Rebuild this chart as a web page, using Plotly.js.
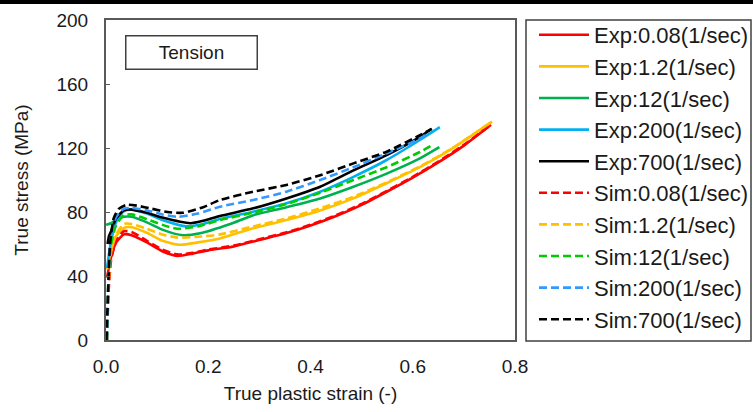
<!DOCTYPE html>
<html>
<head>
<meta charset="utf-8">
<script src="https://cdn.plot.ly/plotly-3.0.1.min.js"></script>
<style>
html,body{margin:0;padding:0;background:#fff;}
#chart{width:753px;height:412px;}
</style>
</head>
<body>
<div id="chart"></div>
<script>
// ---- Data ----
const seriesNames = ["Exp:0.08(1/sec)","Exp:1.2(1/sec)","Exp:12(1/sec)","Exp:200(1/sec)","Exp:700(1/sec)",
                     "Sim:0.08(1/sec)","Sim:1.2(1/sec)","Sim:12(1/sec)","Sim:200(1/sec)","Sim:700(1/sec)"];

const expStrain008 = [0.002,0.01,0.02,0.035,0.05,0.08,0.11,0.14,0.17,0.2,0.25,0.3,0.35,0.4,0.45,0.5,0.55,0.6,0.65,0.7,0.753];
const expStress008 = [39,52,61,66,65.5,61,55.5,52.5,54,56,58.5,62.5,66.5,71.5,77.5,84.5,92.8,101.5,111,121.5,134.5];

const expStrain12 = [0.002,0.01,0.02,0.035,0.05,0.08,0.11,0.145,0.18,0.223,0.288,0.353,0.419,0.484,0.549,0.614,0.673,0.755];
const expStress12 = [44,56,65,70,70.5,67,62,59.5,61,63.5,69.8,75,81,88.5,98,108,118.8,136.5];

const expStrain12s = [0,0.01,0.02,0.035,0.05,0.08,0.11,0.15,0.184,0.243,0.288,0.353,0.419,0.484,0.549,0.614,0.652];
const expStress12s = [72,73,75,77,77,73.5,69,65.5,66.7,72.5,78,83,88.5,95.8,104,113.5,120.5];

const expStrain200 = [0.002,0.01,0.02,0.035,0.05,0.08,0.11,0.158,0.19,0.223,0.288,0.353,0.419,0.484,0.549,0.614,0.653];
const expStress200 = [45,62,74,80.5,81.5,79,75,71,72.5,75.6,80.2,85.4,92.7,102,112.5,125,133];

const expStrain700 = [0.003,0.006,0.01,0.02,0.035,0.05,0.08,0.11,0.165,0.19,0.223,0.288,0.353,0.419,0.484,0.549,0.614,0.637];
const expStress700 = [60,65,68,76,81,81.5,79.5,76.5,73,74.5,77.5,82.3,88.5,95.8,106,115.6,127,132];

const simStrain008 = [0.002,0.005,0.01,0.02,0.035,0.05,0.08,0.11,0.14,0.17,0.2,0.25,0.3,0.35,0.4,0.45,0.5,0.55,0.6,0.65,0.7,0.753];
const simStress008 = [0,30,50,62,68,67.5,62,56.5,53.5,54.5,56.5,59,63,67,72,78,85,93.3,102,111.5,122,134.5];

const simStrain12 = [0.002,0.005,0.01,0.02,0.035,0.05,0.08,0.11,0.14,0.18,0.223,0.288,0.353,0.419,0.484,0.549,0.614,0.673,0.755];
const simStress12 = [0,35,55,66,72.5,72.5,69.5,66,64,64.5,66,71,76,82.3,89.6,98.5,108.5,119,136.5];

const simStrain12s = [0.002,0.005,0.01,0.02,0.035,0.05,0.08,0.11,0.14,0.18,0.223,0.288,0.353,0.419,0.484,0.549,0.614,0.639];
const simStress12s = [0,40,60,72,78,78.5,75.5,72,69.5,71,75,79.6,85,92,100,108,117.5,122];

const simStrain200 = [0.002,0.005,0.01,0.02,0.035,0.05,0.08,0.11,0.14,0.18,0.223,0.288,0.353,0.419,0.484,0.549,0.614,0.624];
const simStress200 = [0,40,65,77,82,82.5,81,78.5,77,79,83.3,87.5,92.7,100,108,116.7,126,128];

const simStrain700 = [0.001,0.004,0.008,0.015,0.025,0.04,0.06,0.09,0.12,0.15,0.19,0.223,0.288,0.353,0.419,0.484,0.549,0.614,0.637];
const simStress700 = [0,30,60,76,82,84.5,84,82,80,79.5,83,87.5,92.7,96.9,103,110.4,117.7,128,132];

const xTicks = [0,0.2,0.4,0.6,0.8];
const yTicks = [0,40,80,120,160,200];

// ---- Styles ----
const colors = ["#FF0000","#FFC000","#00B050","#00B0F0","#000000",
                "#FF0000","#FFC000","#00CC00","#3399FF","#000000"];
const xs = [expStrain008,expStrain12,expStrain12s,expStrain200,expStrain700,
            simStrain008,simStrain12,simStrain12s,simStrain200,simStrain700];
const ys = [expStress008,expStress12,expStress12s,expStress200,expStress700,
            simStress008,simStress12,simStress12s,simStress200,simStress700];

const traces = seriesNames.map((n,i)=>({
  type:"scatter", mode:"lines", name:n, x:xs[i], y:ys[i],
  line:{color:colors[i], width:2.6, shape:"spline", smoothing:0.6, dash: i>=5 ? "8px,4px" : "solid"}
}));

const font = {family:"Liberation Sans, Arial, sans-serif", size:19, color:"#1a1a1a"};

// helpers: pixel -> paper coordinates (plot area 106..515 x, 20..340 y)
const px = v => (v-106)/409;
const py = v => (340-v)/320;

const layout = {
  width:753, height:412,
  margin:{l:106, r:238, t:20, b:72, autoexpand:false},
  paper_bgcolor:"#fff", plot_bgcolor:"#fff",
  font:font,
  showlegend:true,
  legend:{x:px(534), xanchor:"left", y:py(14), yanchor:"top",
          borderwidth:0, bgcolor:"rgba(0,0,0,0)", maxheight:600,
          font:{family:"Liberation Sans, Arial, sans-serif", size:22, color:"#1a1a1a"},
          itemwidth:50},
  xaxis:{range:[0,0.8], tickvals:xTicks, ticktext:xTicks.map(v=>v.toFixed(1)),
         showline:true, mirror:true, linecolor:"#595959", linewidth:2,
         showgrid:false, zeroline:false, ticks:"", ticklabelstandoff:8,
         title:{text:"True plastic strain (-)", standoff:11, font:{size:19}}},
  yaxis:{range:[0,200], tickvals:yTicks, showline:true, mirror:true,
         linecolor:"#595959", linewidth:2, showgrid:false, zeroline:false,
         ticks:"inside", ticklen:4, tickcolor:"#595959", ticklabelstandoff:12,
         title:{text:"True stress (MPa)", standoff:23, font:{size:19}}},
  annotations:[{text:"Tension", xref:"paper", yref:"paper", x:0.209, y:0.898,
                xanchor:"center", yanchor:"middle", showarrow:false,
                font:{size:19, color:"#1a1a1a"}, bordercolor:"#404040", borderwidth:1.5,
                borderpad:0, width:130, height:32, bgcolor:"#fff"}],
  shapes:[
    {type:"rect", xref:"paper", yref:"paper", x0:-0.3, x1:1.65, y0:1.05, y1:1.08,
     fillcolor:"#000", line:{width:0}, layer:"above"},
    {type:"rect", xref:"paper", yref:"paper", x0:px(526), x1:px(751), y0:py(341), y1:py(20),
     fillcolor:"rgba(0,0,0,0)", line:{color:"#404040", width:1.5}, layer:"below"}
  ]
};

Plotly.newPlot("chart", traces, layout, {displayModeBar:false, staticPlot:true});
</script>
</body>
</html>
